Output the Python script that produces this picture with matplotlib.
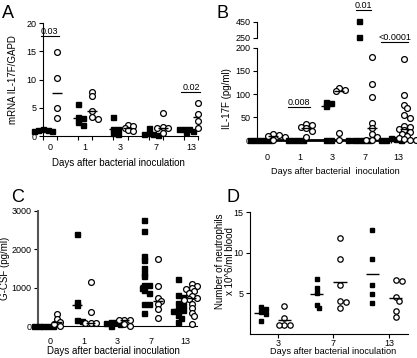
import numpy as np
import matplotlib
matplotlib.use("Agg")
import matplotlib.pyplot as plt

plt.rcParams['font.family'] = ['Liberation Sans', 'DejaVu Sans']
plt.rcParams['font.size'] = 7

days = ["0", "1", "3", "7", "13"]

# A: mRNA IL-17F/GAPD (filled squares / open circles)
a_filled = [[1.1, 1.2, 0.9, 0.8, 1.0], [5.6, 3.3, 3.2, 2.4, 2.0], [3.4, 1.3, 1.2, 0.6, 0.3],
            [1.4, 0.5, 0.4, 0.3, 0.2], [1.3, 1.2, 1.2, 0.9, 0.7]]
a_open = [[14.9, 10.3, 4.9, 3.2], [7.8, 7.1, 4.4, 3.4, 3.0], [2.0, 1.8, 1.5, 1.0, 0.8],
          [4.0, 1.6, 1.5, 1.4, 0.6], [5.8, 3.9, 2.7, 1.4]]
a_pvals = ["0.03", "0.02"]

# B: IL-17F (pg/ml)
b_filled = [[0, 0, 0, 0, 0], [0, 0, 0, 0], [84, 80, 75, 0, 0], [455, 255, 0, 0, 0, 0, 0],
            [5, 3, 0, 0, 0]]
b_open = [[14, 12, 10, 7, 0], [36, 34, 30, 26, 20, 7], [114, 108, 107, 17, 0],
          [180, 122, 94, 37, 28, 13, 8, 0, 0],
          [175, 98, 77, 70, 54, 48, 31, 29, 25, 22, 18, 14, 10, 6, 3, 0, 0]]
b_pvals = ["0.008", "0.01", "<0.0001"]

# C: G-CSF (pg/ml)
c_filled = [[10, 5, 0, 0, 0], [2410, 635, 540, 150, 130], [110, 100, 90, 50, 10],
            [2760, 2480, 1830, 1730, 1520, 1390, 1300, 1080, 1060, 1000, 930, 870, 580, 565, 350],
            [1220, 800, 750, 600, 550, 440, 430, 380, 290, 220, 110]]
c_open = [[320, 175, 100, 45, 0], [1150, 365, 80, 75, 70], [155, 150, 145, 50, 10],
          [1760, 1040, 740, 650, 565, 435, 220],
          [1100, 1040, 1000, 960, 910, 870, 780, 740, 700, 670, 565, 460, 350, 260, 60]]

# D: neutrophils x 10^6/ml blood
d_days = ["3", "7", "13"]
d_filled = [[3.3, 3.1, 2.7, 2.5, 1.6], [6.8, 5.7, 5.1, 3.6, 3.2], [12.8, 9.2, 6.0, 4.9, 3.8]]
d_open = [[3.4, 2.0, 1.1, 1.1, 1.1], [11.8, 9.2, 6.0, 4.1, 3.9, 3.2], [6.7, 6.5, 4.5, 4.1, 2.8, 2.1]]

W, H = 417, 358
fig = plt.figure(figsize=(W / 100, H / 100), dpi=100)


def box(l, t, r, b):
    return [l / W, 1 - b / H, (r - l) / W, (b - t) / H]


def swarm(ax, xc, vals, gap):
    # spread points sideways so they do not sit on top of each other
    vals = np.asarray(vals, float)
    xs = np.full(len(vals), float(xc))
    inv = ax.transData.inverted()
    placed = []
    for i in np.argsort(-vals, kind="stable"):
        px, py = ax.transData.transform((xc, vals[i]))
        for k in [0, 1, -1, 2, -2, 3, -3, 4, -4, 5, -5, 6, -6]:
            cx = px + k * gap * 0.7
            if all(np.hypot(cx - qx, py - qy) >= gap for qx, qy in placed):
                break
        placed.append((cx, py))
        xs[i] = inv.transform((cx, py))[0]
    return xs


def dots(ax, pos, vals, filled, stat=np.median, half=0.14, gap=3.4, line=True, ms=3.6):
    vals = np.asarray(vals, float)
    xs = swarm(ax, pos, vals, gap)
    if filled:
        ax.plot(xs, vals, "s", ms=ms, color="black", clip_on=False, zorder=3)
    else:
        ax.plot(xs, vals, "o", ms=ms + 0.6, mfc="white", mec="black", mew=0.9,
                clip_on=False, zorder=3)
    if line:
        ax.hlines(stat(vals), pos - half, pos + half, color="black", lw=1.0, zorder=4)


def style(ax):
    for s in ["top", "right"]:
        ax.spines[s].set_visible(False)
    ax.tick_params(axis="y", direction="out", length=3, width=0.8, pad=1.5, labelsize=6.5)
    ax.tick_params(axis="x", labelsize=6.5)


def sig(ax, x0, x1, y, txt):
    ax.plot([x0, x1], [y, y], color="black", lw=0.8, clip_on=False)
    ax.text((x0 + x1) / 2, y, txt, ha="center", va="bottom", fontsize=6.5)


off = 0.2
groups = np.arange(len(days))

# ---- A ----
axA = fig.add_axes(box(43, 23, 198, 136))
axA.set_xlim(-0.19, 4.2)
axA.set_ylim(0, 20)
axA.set_yticks([0, 5, 10, 15, 20])
style(axA)
for g in groups:
    dots(axA, g - off, a_filled[g], True)
    dots(axA, g + off, a_open[g], False, gap=3.8)
axA.set_xticks(groups)
axA.set_xticklabels(days)
axA.set_xticks(np.sort(np.r_[groups - off, groups + off]), minor=True)
axA.tick_params(axis="x", which="major", length=0, pad=5)
axA.tick_params(axis="x", which="minor", length=3, width=0.8)
sig(axA, -0.27, 0.24, 17.75, a_pvals[0])
sig(axA, 3.73, 4.27, 7.8, a_pvals[1])
axA.set_ylabel("mRNA IL-17F/GAPD", fontsize=7)
axA.yaxis.set_label_coords((18 - 43) / 155, 0.5)
fig.text(118 / W, 1 - 163 / H, "Days after bacterial inoculation", ha="center", va="center", fontsize=7)
fig.text(2 / W, 1 - 14 / H, "A", fontsize=13, va="center")

# ---- B (broken axis) ----
axB = fig.add_axes(box(257, 47.7, 413, 140.5))
axBt = fig.add_axes(box(257, 21.7, 413, 37.7))
axB.set_xlim(-0.3, 4.0 + 15 / 32.5)
axBt.set_xlim(axB.get_xlim())
axB.set_ylim(0, 200)
axBt.set_ylim(250, 450)
style(axB)
style(axBt)
axB.set_yticks([0, 50, 100, 150, 200])
axBt.set_yticks([250, 450])
axBt.spines["bottom"].set_visible(False)
axBt.set_xticks([])
axBt.patch.set_visible(False)
axB.spines["bottom"].set_linewidth(2.0)
for g in groups:
    for vals, filled, sgn in [(b_filled[g], True, -1), (b_open[g], False, 1)]:
        vals = np.asarray(vals, float)
        low = vals[vals <= 200]
        high = vals[vals > 200]
        dots(axB, g + sgn * off, low, filled, line=False, gap=3.6 if filled else 4.0)
        if len(high):
            dots(axBt, g + sgn * off, high, filled, line=False)
        axB.hlines(np.median(vals), g + sgn * off - 0.15, g + sgn * off + 0.15,
                   color="black", lw=1.0, zorder=4)
axB.set_xticks(groups)
axB.set_xticklabels(days)
axB.set_xticks(np.sort(np.r_[groups - off, groups + off]), minor=True)
axB.tick_params(axis="x", which="major", length=0, pad=9)
axB.tick_params(axis="x", which="minor", length=2.5, width=0.8)
sig(axB, 0.66, 1.32, 73, b_pvals[0])
sig(axBt, 2.71, 3.19, 600, b_pvals[1])
sig(axB, 3.48, 4.32, 213, b_pvals[2])
axB.set_ylabel("IL-17F (pg/ml)", fontsize=7)
axB.yaxis.set_label_coords((232 - 257) / 156, 0.45)
fig.text(335 / W, 1 - 171 / H, "Days after bacterial  inoculation", ha="center", va="center", fontsize=6.6)
fig.text(217 / W, 1 - 14 / H, "B", fontsize=13, va="center")

# ---- C ----
axC = fig.add_axes(box(38, 211, 197, 326))
axC.set_xlim(-0.36, 4.36)
axC.set_ylim(0, 3000)
axC.set_yticks([0, 1000, 2000, 3000])
style(axC)
axC.spines["left"].set_linewidth(1.5)
axC.spines["left"].set_color("#555555")
for g in groups:
    dots(axC, g - off, c_filled[g], True)
    dots(axC, g + off, c_open[g], False, gap=3.8)
axC.set_xticks(groups)
axC.set_xticklabels(days)
axC.tick_params(axis="x", length=0, pad=8)
axC.set_ylabel("G-CSF (pg/ml)", fontsize=7)
axC.yaxis.set_label_coords((10 - 38) / 159, 0.5)
fig.text(113 / W, 1 - 351 / H, "Days after bacterial inoculation", ha="center", va="center", fontsize=7)
fig.text(11 / W, 1 - 197 / H, "C", fontsize=13, va="center")

# ---- D ----
d_groups = np.arange(len(d_days))
axD = fig.add_axes(box(250, 212, 408, 334))
axD.set_xlim(-0.5, 2.34)
axD.set_ylim(0, 15)
axD.set_yticks([5, 10, 15])
style(axD)
for g in d_groups:
    dots(axD, g - 0.3, d_filled[g], True, stat=np.mean, half=0.12, ms=3.3)
    dots(axD, g + 0.12, d_open[g], False, stat=np.mean, half=0.12, ms=3.3, gap=4.2)
axD.set_xticks(d_groups)
axD.set_xticklabels(d_days)
axD.tick_params(axis="x", length=3, width=0.8, pad=0.5)
axD.set_ylabel("Number of neutrophils\nx 10^6/ml blood", fontsize=7, linespacing=1.0)
axD.yaxis.set_label_coords((235 - 250) / 158, 0.6)
fig.text(333 / W, 1 - 352 / H, "Days after bacterial inoculation", ha="center", va="center", fontsize=6.6)
fig.text(227 / W, 1 - 198 / H, "D", fontsize=13, va="center")

fig.savefig("out.png", dpi=100)
